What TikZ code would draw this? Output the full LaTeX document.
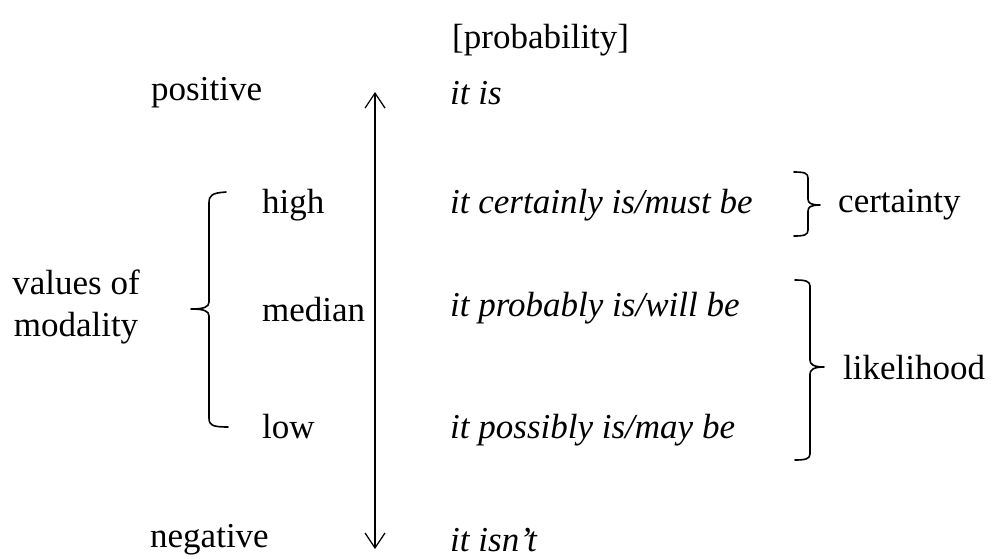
\documentclass[tikz,border=0pt]{standalone}
\usepackage{fontspec}
\setmainfont{Liberation Serif}
\usetikzlibrary{arrows.meta}
\begin{document}
\begin{tikzpicture}[x=1pt,y=-1pt,
  lbl/.style={anchor=west,inner sep=0pt,font=\fontsize{35}{40}\selectfont},
  ex/.style={lbl,font=\fontsize{35}{40}\selectfont\itshape},
  brk/.style={line width=1.6pt,line cap=round,line join=round}]
\useasboundingbox (0,0) rectangle (992,558);
\node[lbl] (prob) at (452,40) {[probability]};
\node[lbl] (pos) at (151,93) {positive};
\node[ex] (itis) at (450,93) {it is};
\node[lbl] (high) at (262,205) {high};
\node[ex] (cert) at (450,205) {it certainly is/must be};
\node[lbl] (certainty) at (838,205) {certainty};
\node[lbl,align=center,anchor=center,font=\fontsize{35}{42}\selectfont] (values) at (76,307) {values of\\modality};
\node[lbl] (median) at (262,310) {median};
\node[ex] (probably) at (450,308) {it probably is/will be};
\node[lbl] (likelihood) at (843,368) {likelihood};
\node[lbl] (low) at (262,427) {low};
\node[ex] (possibly) at (450,430) {it possibly is/may be};
\node[lbl] (neg) at (150,540) {negative};
\node[ex] (isnt) at (450,540) {it isn’t};
\coordinate (atop) at (375,92);
\coordinate (abot) at (375,549);
\draw[line width=1.2pt,{Straight Barb[length=15pt,width=20pt]}-{Straight Barb[length=15pt,width=20pt]}] (atop) -- (abot);
% left brace
\draw[brk] (226,192) .. controls (212,193) and (209,195) .. (209,203) -- (209,302)
  .. controls (209,307) and (204,309) .. (191,309)
  .. controls (204,309) and (209,311) .. (209,316) -- (209,418)
  .. controls (209,425) and (212,427) .. (228,427);
% certainty brace
\draw[brk] (794,172) .. controls (804,172) and (808,173) .. (808,178) -- (808,199)
  .. controls (808,203) and (811,205) .. (820,205)
  .. controls (811,205) and (808,207) .. (808,211) -- (808,230)
  .. controls (808,235) and (804,236) .. (794,236);
% likelihood brace
\draw[brk] (795,280) .. controls (805,280) and (810,281) .. (810,286) -- (810,360)
  .. controls (810,364) and (813,367) .. (824,367)
  .. controls (813,367) and (810,370) .. (810,374) -- (810,454)
  .. controls (810,459) and (805,460) .. (795,460);
\end{tikzpicture}
\end{document}
